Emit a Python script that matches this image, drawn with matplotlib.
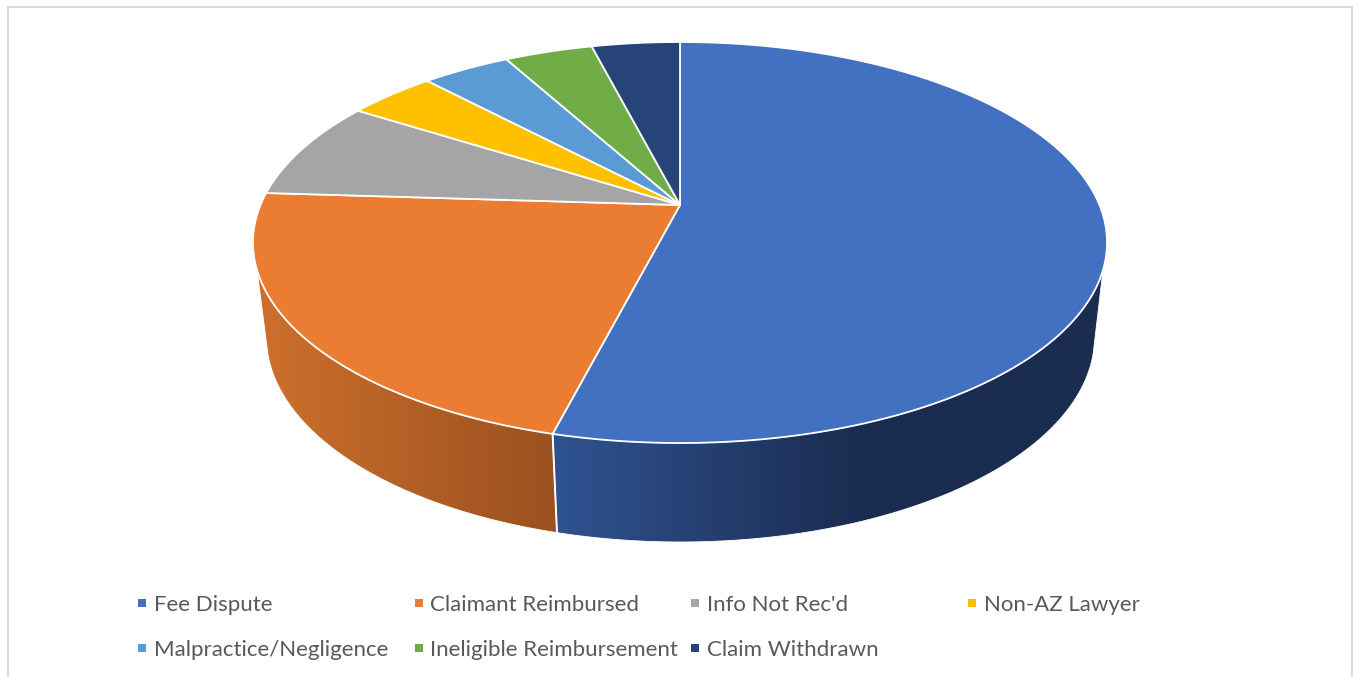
import numpy as np
import matplotlib
matplotlib.use("Agg")
import matplotlib.pyplot as plt
from matplotlib.colors import LinearSegmentedColormap
from matplotlib.patches import Polygon, Rectangle

# Share of closed claims by disposition, in percent
categories = ["Fee Dispute", "Claimant Reimbursed", "Info Not Rec'd", "Non-AZ Lawyer",
              "Malpractice/Negligence", "Ineligible Reimbursement", "Claim Withdrawn"]
shares = [54, 22, 8, 4, 4, 4, 4]
colors = ["#4371C1", "#EB7D32", "#A5A5A5", "#FFC000", "#5B9BD5", "#70AD47", "#264478"]

# Horizontal shading of the visible side walls: (pixel x, colour) stops
wall_shading = {
    0: [(553, "#2F5391"), (860, "#1A2C50"), (1110, "#1A2C50")],
    1: [(255, "#CE702C"), (556, "#9A5120")],
}

WIDTH, HEIGHT = 1353, 677
PERSPECTIVE = 0.187
TOP_RIM = dict(cx=680.0, ax=419.5, bx=193.5, y0=205.0)
BOTTOM_RIM = dict(cx=680.5, ax=406.7, bx=197.8, y0=298.7)
# Angles (clockwise from 12 o'clock) where the cylinder silhouette meets each rim
TOP_SILHOUETTE = (108.5, 251.5)
BOTTOM_SILHOUETTE = (105.0, 255.0)


def rim(angle_deg, cx, ax, bx, y0):
    """Project points of the pie's circular rim into pixel coordinates."""
    t = np.radians(angle_deg)
    u, v = np.sin(t), np.cos(t)
    w = 1 + PERSPECTIVE * v
    return np.column_stack([cx + ax * u / w, y0 - bx * v / w])


def visible_arc(start, end, limits):
    """Sample the part of a wedge's rim lying between the silhouette angles."""
    lo, hi = max(start, limits[0]), min(end, limits[1])
    return np.linspace(lo, hi, 200) if lo < hi else None


fig = plt.figure(figsize=(WIDTH / 100, HEIGHT / 100), dpi=100, facecolor="white")
ax = fig.add_axes([0, 0, 1, 1])
ax.set_xlim(0, WIDTH)
ax.set_ylim(HEIGHT, 0)
ax.axis("off")

# Chart frame, open along the lower edge
ax.plot([7.7, 7.7, 1351.5, 1351.5], [HEIGHT + 5, 6.7, 6.7, HEIGHT + 5],
        color="#D9D9D9", lw=1.5, solid_joinstyle="miter", zorder=1)

bounds = 360 * np.cumsum([0] + shares) / sum(shares)

# Side walls, visible only along the front of the cylinder
for i, (start, end) in enumerate(zip(bounds[:-1], bounds[1:])):
    top_arc = visible_arc(start, end, TOP_SILHOUETTE)
    bottom_arc = visible_arc(start, end, BOTTOM_SILHOUETTE)
    if top_arc is None:
        continue
    outline = np.vstack([rim(top_arc, **TOP_RIM), rim(bottom_arc[::-1], **BOTTOM_RIM)])
    x0, x1 = outline[:, 0].min(), outline[:, 0].max()
    stops = wall_shading[i]
    span = stops[-1][0] - stops[0][0]
    cmap = LinearSegmentedColormap.from_list(
        f"wall{i}", [((x - stops[0][0]) / span, c) for x, c in stops])
    ramp = np.clip((np.linspace(x0, x1, 512) - stops[0][0]) / span, 0, 1)[None, :]
    image = ax.imshow(ramp, cmap=cmap, vmin=0, vmax=1, aspect="auto",
                      extent=(x0, x1, outline[:, 1].max(), outline[:, 1].min()), zorder=2)
    clip = Polygon(outline, closed=True, transform=ax.transData, fill=False, edgecolor="none")
    ax.add_patch(clip)
    image.set_clip_path(clip)
    ax.add_patch(Polygon(outline, closed=True, fill=False, edgecolor="white", lw=0.6, zorder=3))

# Edges between neighbouring walls
for b in bounds:
    if TOP_SILHOUETTE[0] < b < TOP_SILHOUETTE[1]:
        edge = np.vstack([rim(b, **TOP_RIM), rim(b, **BOTTOM_RIM)])
        ax.plot(edge[:, 0], edge[:, 1], color="white", lw=1.4, zorder=4)

# Top face of the pie, one wedge per share
apex = np.array([[TOP_RIM["cx"], TOP_RIM["y0"]]])
for start, end, color in zip(bounds[:-1], bounds[1:], colors):
    arc = rim(np.linspace(start, end, 200), **TOP_RIM)
    ax.add_patch(Polygon(np.vstack([apex, arc]), closed=True, facecolor=color,
                         edgecolor="white", lw=1.3, joinstyle="round", zorder=5))

# Legend laid out in four columns
legend_x = [154, 431, 707.5, 984]
legend_y = [603, 648]
for i, (name, color) in enumerate(zip(categories, colors)):
    row, col = divmod(i, 4)
    x, y = legend_x[col], legend_y[row]
    ax.add_patch(Rectangle((x - 16.5, y - 4), 8, 8, facecolor=color, edgecolor="none", zorder=6))
    ax.text(x - 0.5, y, name, family="Lato", fontsize=16, color="#595959",
            va="center_baseline", ha="left", zorder=6)

fig.savefig("out.png", dpi=100, facecolor="white")
